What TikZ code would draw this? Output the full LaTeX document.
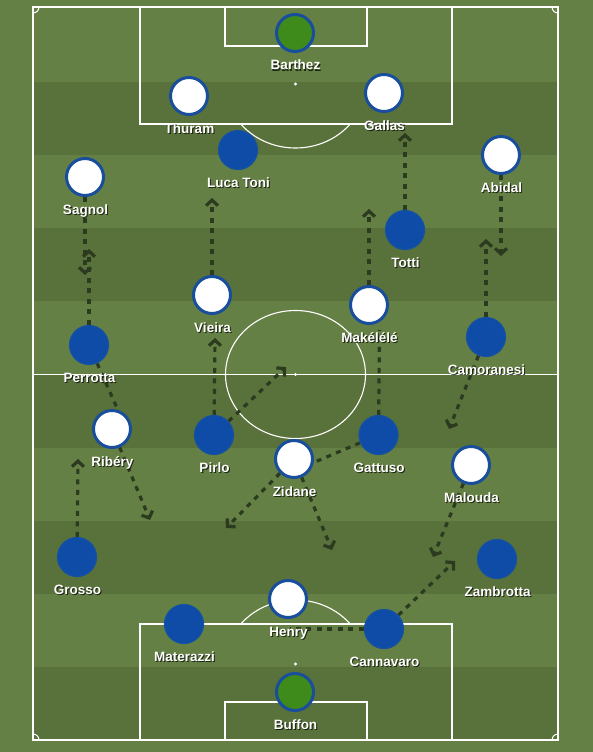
\documentclass[tikz,border=0pt]{standalone}
\usepackage{fontspec}
\setmainfont{Liberation Sans}
\usetikzlibrary{arrows.meta}
\definecolor{grassL}{RGB}{101,128,68}
\definecolor{grassD}{RGB}{89,113,58}
\definecolor{kitblue}{RGB}{14,76,168}
\definecolor{kitring}{RGB}{22,82,160}
\definecolor{ringblue}{RGB}{24,78,156}
\definecolor{gkgreen}{RGB}{62,138,26}
\definecolor{runcol}{RGB}{44,58,32}
\pgfdeclarelayer{bg}
\pgfdeclarelayer{runs}
\pgfsetlayers{bg,runs,main}
\newcommand\plr[5]{%
  \node[#2] (#1) at (#3,#4) {};
  \node[labsh] (#1s) at (#3+1.5,#4+38) {#5};
  \node[lab] (#1l) at (#3+0.5,#4+37) {#5};
}
\begin{document}
\begin{tikzpicture}[x=1pt,y=-1pt,
  pline/.style={white, line width=1.1pt},
  wp/.style={circle, fill=white, draw=ringblue, line width=3pt, minimum size=37pt, inner sep=0pt},
  bp/.style={circle, fill=kitblue, draw=kitring, line width=1.2pt, minimum size=39pt, inner sep=0pt},
  gk/.style={wp, fill=gkgreen},
  lab/.style={anchor=base, text=white, font=\bfseries\fontsize{13.5}{14}\selectfont, inner sep=0pt},
  labsh/.style={lab, text=black, text opacity=0.7},
  run/.style={draw=runcol, line width=3.2pt, dash pattern=on 5pt off 5.5pt},
  runarr/.style={run, -{Straight Barb[length=5.5pt,width=12pt]}}
]
\useasboundingbox (0,0) rectangle (593,752);
\begin{pgfonlayer}{bg}
  \fill[grassL] (0,0) rectangle (593,752);
  \foreach \a/\b in {82/155.1, 228.2/301.3, 374.4/447.5, 520.6/593.7, 666.8/740}
    \fill[grassD] (33,\a) rectangle (558,\b);
  % pitch
  \draw[pline] (33,7) rectangle (558,740);
  \draw[pline] (33,374.5) -- (558,374.5);
  \draw[pline] (295.5,374.5) ellipse [x radius=70, y radius=64];
  \fill[white] (295.5,374.5) circle (1.6);
  % top
  \draw[pline] (140,7) rectangle (452,124);
  \draw[pline] (225,7) rectangle (367,46);
  \fill[white] (295.5,84) circle (1.6);
  \begin{scope}
    \clip (0,124.6) rectangle (593,300);
    \draw[pline] (295.5,84) ellipse [x radius=70, y radius=64];
  \end{scope}
  % bottom
  \draw[pline] (140,624) rectangle (452,740);
  \draw[pline] (225,702) rectangle (367,740);
  \fill[white] (295.5,664) circle (1.6);
  \begin{scope}
    \clip (0,450) rectangle (593,623.4);
    \draw[pline] (295.5,664) ellipse [x radius=70, y radius=64];
  \end{scope}
  % corners
  \begin{scope}
    \clip (33,7) rectangle (558,740);
    \foreach \cx/\cy in {33/7, 558/7, 33/740, 558/740}
      \draw[pline, line width=1pt] (\cx,\cy) circle (6);
  \end{scope}
\end{pgfonlayer}

% players
\plr{barthez}{gk}{295}{33}{Barthez}
\plr{thuram}{wp}{189}{96}{Thuram}
\plr{gallas}{wp}{384}{93}{Gallas}
\plr{sagnol}{wp}{85}{177}{Sagnol}
\plr{abidal}{wp}{501}{155}{Abidal}
\plr{vieira}{wp}{212}{295}{Vieira}
\plr{makelele}{wp}{369}{305}{Makélélé}
\plr{ribery}{wp}{112}{429}{Ribéry}
\plr{zidane}{wp}{294}{459}{Zidane}
\plr{malouda}{wp}{471}{465}{Malouda}
\plr{henry}{wp}{288}{599}{Henry}

\plr{lucatoni}{bp}{238}{150}{Luca Toni}
\plr{totti}{bp}{405}{230}{Totti}
\plr{perrotta}{bp}{89}{345}{Perrotta}
\plr{camoranesi}{bp}{486}{337}{Camoranesi}
\plr{pirlo}{bp}{214}{435}{Pirlo}
\plr{gattuso}{bp}{378.5}{435}{Gattuso}
\plr{grosso}{bp}{77}{557}{Grosso}
\plr{zambrotta}{bp}{497}{559}{Zambrotta}
\plr{materazzi}{bp}{184}{624}{Materazzi}
\plr{cannavaro}{bp}{384}{629}{Cannavaro}
\plr{buffon}{gk}{295}{692}{Buffon}

% run targets
\coordinate (sagnolT) at (85,275);
\coordinate (perrottaT) at (89,249);
\coordinate (vieiraT) at (212,198);
\coordinate (pirloT) at (215,338);
\coordinate (pirloD) at (286,367);
\coordinate (tottiT) at (405,133);
\coordinate (makeleleT) at (369,209);
\coordinate (abidalT) at (501,256);
\coordinate (camoranesiT) at (486,239);
\coordinate (camoranesiD) at (449,429);
\coordinate (gattusoT) at (379.5,330);
\coordinate (riberyD) at (150,520);
\coordinate (grossoT) at (78,459);
\coordinate (zidaneL) at (226,528);
\coordinate (zidaneR) at (332,550);
\coordinate (maloudaD) at (433,557);
\coordinate (cannavaroT) at (455,561);
\coordinate (cannavaroL) at (290,629);

\begin{pgfonlayer}{runs}
  \draw[runarr] (sagnol) -- (sagnolT);
  \draw[runarr] (perrotta) -- (perrottaT);
  \draw[runarr] (vieira) -- (vieiraT);
  \draw[runarr] (pirlo) -- (pirloT);
  \draw[runarr] (pirlo) -- (pirloD);
  \draw[runarr] (totti) -- (tottiT);
  \draw[runarr] (makelele) -- (makeleleT);
  \draw[runarr] (abidal) -- (abidalT);
  \draw[runarr] (camoranesi) -- (camoranesiT);
  \draw[runarr] (camoranesi) -- (camoranesiD);
  \draw[runarr] (ribery) -- (riberyD);
  \draw[runarr] (grosso) -- (grossoT);
  \draw[runarr] (zidane) -- (zidaneL);
  \draw[runarr] (zidane) -- (zidaneR);
  \draw[runarr] (malouda) -- (maloudaD);
  \draw[runarr] (cannavaro) -- (cannavaroT);
  \draw[run] (gattuso) -- (gattusoT);
  \draw[run] (gattuso) -- (zidane.-10);
  \draw[run] (perrotta) -- (ribery.73);
  \draw[run] (cannavaro) -- (cannavaroL);
\end{pgfonlayer}
\end{tikzpicture}
\end{document}
